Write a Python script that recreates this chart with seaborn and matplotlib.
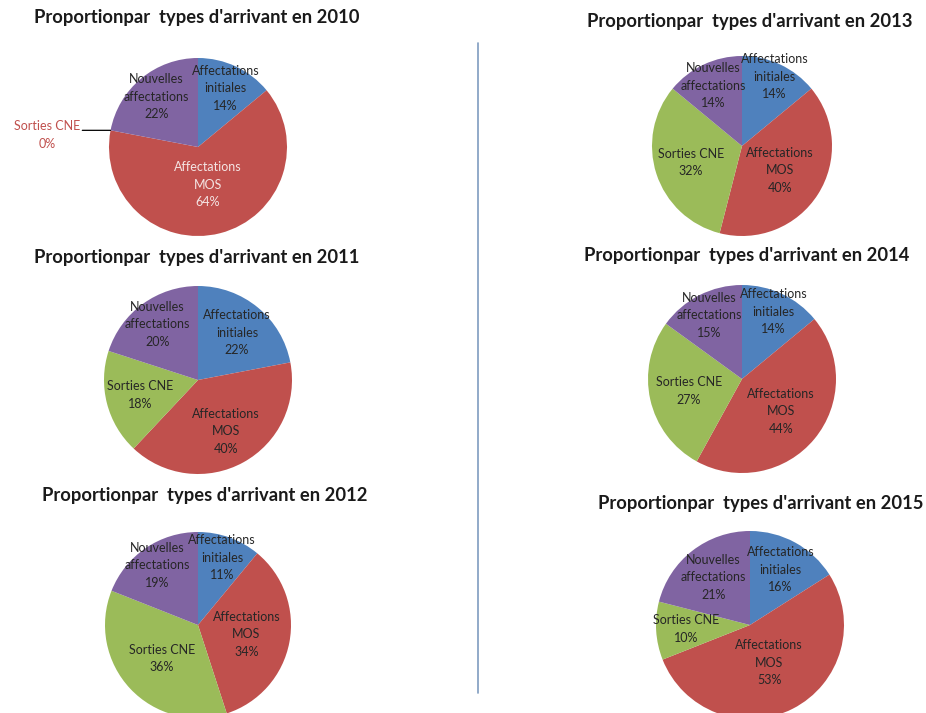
import matplotlib
matplotlib.use("Agg")
import matplotlib.pyplot as plt
import seaborn as sns
import numpy as np

sns.set_theme(style="white")
plt.rcParams['font.family'] = ['Lato', 'DejaVu Sans']

# ---- data ----
categories = ["Affectations\ninitiales", "Affectations\nMOS", "Sorties CNE", "Nouvelles\naffectations"]
years = [2010, 2011, 2012, 2013, 2014, 2015]
vals_2010 = [14, 64, 0, 22]
vals_2011 = [22, 40, 18, 20]
vals_2012 = [11, 34, 36, 19]
vals_2013 = [14, 40, 32, 14]
vals_2014 = [14, 44, 27, 15]
vals_2015 = [16, 53, 10, 21]
series = [vals_2010, vals_2011, vals_2012, vals_2013, vals_2014, vals_2015]
title_fmt = "Proportionpar  types d'arrivant en {}"

# ---- layout (pixels) ----
W, H = 926, 713
# (pie centre x, centre y, radius, title centre x, title centre y)
layout = {
    2010: (198, 147, 89, 197, 18),
    2011: (198, 380, 94, 197, 257),
    2012: (198, 625, 93, 205, 495),
    2013: (742, 146, 90, 750, 22),
    2014: (742, 379, 94, 747, 256),
    2015: (750, 625, 94, 761, 503),
}
# label distance (fraction of radius) for each wedge, Excel "best fit" look
label_pos = {
    2010: [0.73, 0.44, 0.0, 0.73],
    2011: [0.65, 0.62, 0.64, 0.73],
    2012: [0.77, 0.53, 0.53, 0.78],
    2013: [0.85, 0.50, 0.60, 0.74],
    2014: [0.79, 0.54, 0.58, 0.76],
    2015: [0.67, 0.45, 0.68, 0.64],
}
colors = ["#4F81BD", "#C0504D", "#9BBB59", "#8064A2"]
text_col = "#262626"

fig = plt.figure(figsize=(W / 100, H / 100), dpi=100)
fig.patch.set_facecolor("white")

for yr, vals in zip(years, series):
    cx, cy, r, tx, ty = layout[yr]
    ax = fig.add_axes([(cx - r) / W, (H - cy - r) / H, 2 * r / W, 2 * r / H])
    wedges, _ = ax.pie(vals, colors=colors, startangle=90, counterclock=False,
                       radius=1, wedgeprops=dict(linewidth=0))
    ax.set_xlim(-1, 1)
    ax.set_ylim(-1, 1)
    ax.set_aspect("equal")
    ax.axis("off")
    for w, v, cat, d in zip(wedges, vals, categories, label_pos[yr]):
        th = np.deg2rad((w.theta1 + w.theta2) / 2)
        if v == 0:
            # outside label with leader line
            ex, ey = np.cos(th), np.sin(th)
            ax.annotate("", xy=(ex, ey), xytext=(-1.30, ey), annotation_clip=False,
                        arrowprops=dict(arrowstyle="-", color="black", lw=0.9,
                                        shrinkA=0, shrinkB=0))
            ax.text(-1.70, 0.135, f"{cat}\n{v}%", ha="center", va="center",
                    fontsize=9, color="#C0504D", linespacing=1.55)
            continue
        col = "#F4E4E3" if v >= 60 else text_col
        ax.text(d * np.cos(th), d * np.sin(th), f"{cat}\n{v}%", ha="center",
                va="center", fontsize=9, color=col, linespacing=1.55)
    fig.text(tx / W, 1 - ty / H, title_fmt.format(yr), ha="center", va="center",
             fontsize=13.2, fontweight="bold", color="#1a1a1a")

# vertical separator
fig.add_artist(plt.Line2D([478 / W, 478 / W], [1 - 43 / H, 1 - 693 / H],
                          color="#7F9CC0", lw=1.2))

fig.savefig("out.png", dpi=100, facecolor="white")
